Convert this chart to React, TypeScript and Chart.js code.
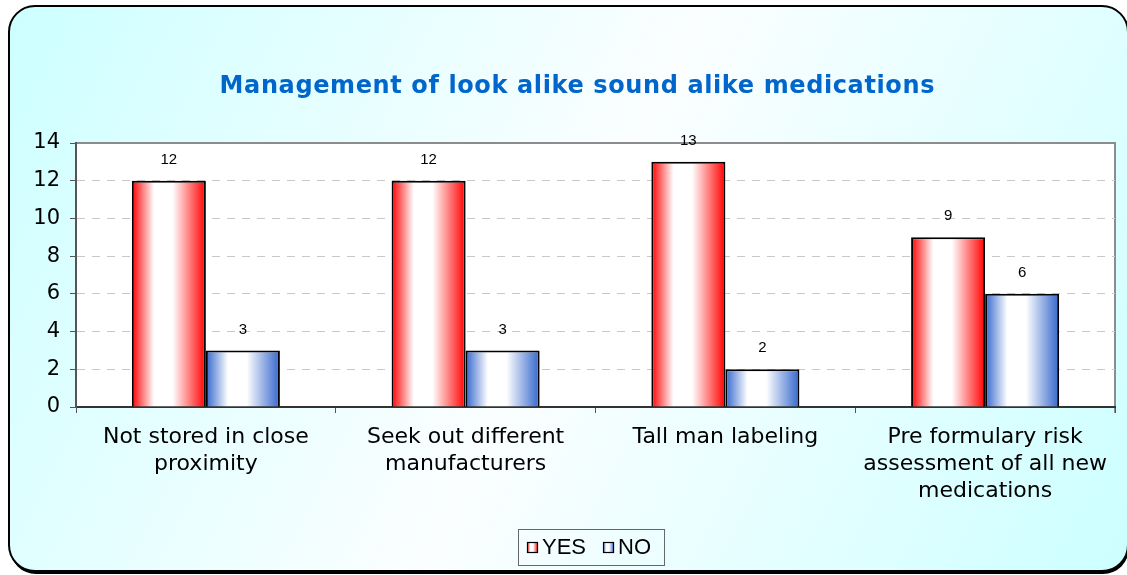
import React, { useEffect, useRef } from "react";
import { Chart, registerables } from "chart.js";

Chart.register(...registerables);

const TITLE = "Management of look alike sound alike medications";
const categories: string[][] = [
  ["Not stored in close", "proximity"],
  ["Seek out different", "manufacturers"],
  ["Tall man labeling"],
  ["Pre formulary risk", "assessment of all new", "medications"],
];
const seriesNames = ["YES", "NO"];
const yesValues = [12, 12, 13, 9];
const noValues = [3, 3, 2, 6];
const yTicks = [0, 2, 4, 6, 8, 10, 12, 14];

const W = 1127;
const H = 575;

const RED = "#ff0000";
const BLUE = "#3366cc";

function barGradient(ctx: CanvasRenderingContext2D, x0: number, x1: number, edge: string) {
  const g = ctx.createLinearGradient(x0, 0, x1, 0);
  g.addColorStop(0, edge);
  g.addColorStop(0.3, "#ffffff");
  g.addColorStop(0.55, "#ffffff");
  g.addColorStop(1, edge);
  return g;
}

function roundRectPath(ctx: CanvasRenderingContext2D, x: number, y: number, w: number, h: number, r: number) {
  ctx.beginPath();
  ctx.moveTo(x + r, y);
  ctx.lineTo(x + w - r, y);
  ctx.arcTo(x + w, y, x + w, y + r, r);
  ctx.lineTo(x + w, y + h - r);
  ctx.arcTo(x + w, y + h, x + w - r, y + h, r);
  ctx.lineTo(x + r, y + h);
  ctx.arcTo(x, y + h, x, y + h - r, r);
  ctx.lineTo(x, y + r);
  ctx.arcTo(x, y, x + r, y, r);
  ctx.closePath();
}

const edges = [RED, BLUE];

const framePlugin = {
  id: "framePlugin",
  beforeDraw(chart: any) {
    const ctx: CanvasRenderingContext2D = chart.ctx;
    ctx.save();
    ctx.fillStyle = "#ffffff";
    ctx.fillRect(0, 0, W, H);
    // shadow
    roundRectPath(ctx, 10, 9, 1119, 565, 26);
    ctx.fillStyle = "#000000";
    ctx.fill();
    // background
    roundRectPath(ctx, 9, 6, 1119, 565, 26);
    const g = ctx.createLinearGradient(0, 0, W, H);
    g.addColorStop(0, "#ccffff");
    g.addColorStop(0.5, "#fbfeff");
    g.addColorStop(1, "#ccffff");
    ctx.fillStyle = g;
    ctx.fill();
    ctx.lineWidth = 2;
    ctx.strokeStyle = "#000000";
    ctx.stroke();
    // plot area
    const a = chart.chartArea;
    ctx.fillStyle = "#ffffff";
    ctx.fillRect(a.left, a.top, a.right - a.left, a.bottom - a.top);
    ctx.strokeStyle = "#8c8c8c";
    ctx.lineWidth = 2;
    ctx.beginPath();
    ctx.moveTo(a.left, a.top);
    ctx.lineTo(a.right, a.top);
    ctx.lineTo(a.right, a.bottom + 6);
    ctx.stroke();
    // title
    ctx.font = "bold 24px 'DejaVu Sans', Verdana, sans-serif";
    ctx.fillStyle = "#0066cc";
    ctx.textBaseline = "alphabetic";
    ctx.textAlign = "left";
    const w0 = ctx.measureText(TITLE).width;
    const spacing = Math.max(0, (715 - w0) / (TITLE.length - 1));
    (ctx as any).letterSpacing = spacing.toFixed(2) + "px";
    const w1 = ctx.measureText(TITLE).width - spacing;
    ctx.fillText(TITLE, 577 - w1 / 2, 93);
    (ctx as any).letterSpacing = "0px";
    ctx.restore();
  },
  beforeDatasetsDraw(chart: any) {
    const ctx: CanvasRenderingContext2D = chart.ctx;
    chart.data.datasets.forEach((_ds: any, di: number) => {
      const meta = chart.getDatasetMeta(di);
      meta.data.forEach((el: any) => {
        const half = el.width / 2;
        el.options = Object.assign({}, el.options, {
          backgroundColor: barGradient(ctx, el.x - half, el.x + half, edges[di]),
        });
      });
    });
  },
  afterDatasetsDraw(chart: any) {
    const ctx: CanvasRenderingContext2D = chart.ctx;
    ctx.save();
    ctx.font = "15px 'Liberation Sans Narrow', 'Liberation Sans', Arial, sans-serif";
    ctx.fillStyle = "#000000";
    ctx.textAlign = "center";
    ctx.textBaseline = "middle";
    chart.data.datasets.forEach((ds: any, di: number) => {
      const meta = chart.getDatasetMeta(di);
      meta.data.forEach((el: any, i: number) => {
        ctx.fillText(String(ds.data[i]), el.x, el.y - 21);
      });
    });
    ctx.restore();
  },
  afterDraw(chart: any) {
    const ctx: CanvasRenderingContext2D = chart.ctx;
    ctx.save();
    ctx.font = "22px 'Liberation Sans', Arial, sans-serif";
    ctx.textBaseline = "middle";
    ctx.textAlign = "left";
    const boxX = 518, boxY = 529, boxH = 36;
    let x = boxX + 9;
    const cy = boxY + boxH / 2 + 1;
    const items = chart.data.datasets.map((ds: any, di: number) => ({ label: ds.label, edge: edges[di] }));
    const parts: { sx: number; tx: number; label: string; edge: string }[] = [];
    items.forEach((it: any, idx: number) => {
      const sx = x;
      const tx = sx + 15;
      const tw = ctx.measureText(it.label).width;
      parts.push({ sx, tx, label: it.label, edge: it.edge });
      x = tx + tw + (idx < items.length - 1 ? 17 : 13);
    });
    const boxW = x - boxX;
    ctx.strokeStyle = "#666666";
    ctx.lineWidth = 1;
    ctx.strokeRect(boxX + 0.5, boxY + 0.5, boxW, boxH);
    parts.forEach((p) => {
      ctx.fillStyle = barGradient(ctx, p.sx, p.sx + 11, p.edge);
      ctx.fillRect(p.sx, cy - 6, 11, 11);
      ctx.strokeStyle = "#000000";
      ctx.lineWidth = 1.2;
      ctx.strokeRect(p.sx + 0.5, cy - 5.5, 10, 10);
      ctx.fillStyle = "#000000";
      ctx.fillText(p.label, p.tx, cy);
    });
    ctx.restore();
  },
};

export default function App() {
  const ref = useRef<HTMLCanvasElement | null>(null);
  useEffect(() => {
    if (!ref.current) return;
    const chart = new Chart(ref.current, {
      type: "bar",
      data: {
        labels: categories,
        datasets: [
          {
            label: seriesNames[0],
            data: yesValues,
            backgroundColor: RED,
            borderColor: "#000000",
            borderWidth: 2,
            categoryPercentage: 0.57,
            barPercentage: 1,
          },
          {
            label: seriesNames[1],
            data: noValues,
            backgroundColor: BLUE,
            borderColor: "#000000",
            borderWidth: 2,
            categoryPercentage: 0.57,
            barPercentage: 1,
          },
        ],
      },
      options: {
        responsive: false,
        animation: false,
        devicePixelRatio: 1,
        layout: { padding: { left: 0, right: 12, top: 143, bottom: 0 } },
        plugins: {
          legend: { display: false },
          tooltip: { enabled: false },
          title: { display: false },
        },
        scales: {
          x: {
            offset: true,
            grid: {
              offset: true,
              drawOnChartArea: false,
              drawTicks: true,
              tickLength: 6,
              tickColor: "#555555",
              tickWidth: 1,
            },
            border: { display: true, color: "#333333", width: 2 },
            ticks: {
              color: "#000000",
              font: { family: "'DejaVu Sans', Verdana, sans-serif", size: 22, lineHeight: 1.23 },
              padding: 11,
              maxRotation: 0,
              autoSkip: false,
            },
            afterFit: (s: any) => {
              s.height = H - 407;
            },
          },
          y: {
            min: 0,
            max: 14,
            afterBuildTicks: (s: any) => {
              s.ticks = yTicks.map((v) => ({ value: v }));
            },
            grid: {
              color: (c: any) => (c.tick && (c.tick.value === 0 || c.tick.value === 14) ? "rgba(0,0,0,0)" : "#c8c8c8"),
              lineWidth: 1,
              drawTicks: true,
              tickLength: 6,
              tickColor: "#555555",
              tickWidth: 1,
              tickBorderDash: [],
            },
            border: { display: true, color: "#555555", width: 2, dash: [8, 7] },
            ticks: {
              color: "#000000",
              font: { family: "'DejaVu Sans', Verdana, sans-serif", size: 21 },
              padding: 10,
            },
            afterFit: (s: any) => {
              s.width = 76;
            },
          },
        },
      },
      plugins: [framePlugin],
    } as any);
    return () => chart.destroy();
  }, []);
  return (
    <div style={{ position: "fixed", left: 0, top: 0, width: W, height: H }}>
      <canvas ref={ref} width={W} height={H} style={{ display: "block" }} />
    </div>
  );
}
